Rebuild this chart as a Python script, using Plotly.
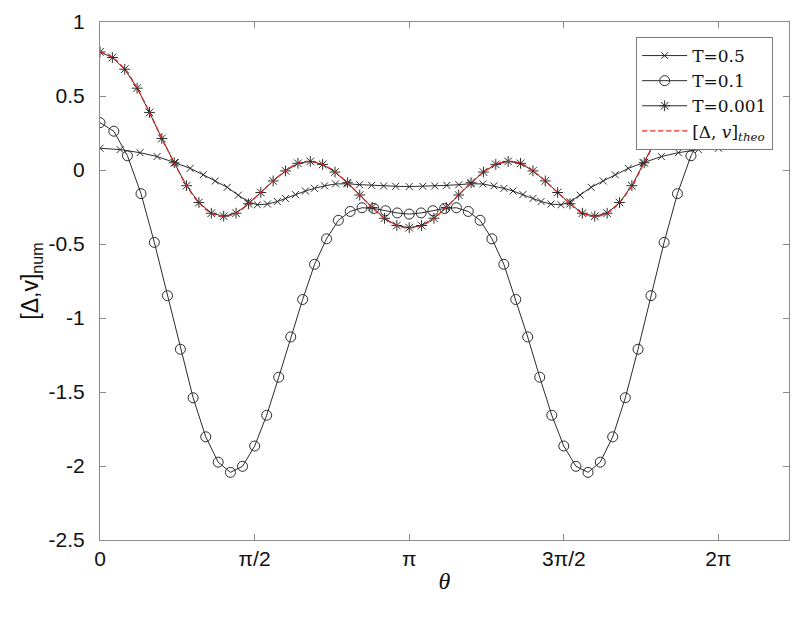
import plotly.graph_objects as go

# ---------------- data ----------------
# T=0.001 sampled on theta = k*2*pi/50, k = 0..50
theta_T0001 = [0.0, 0.1257, 0.2513, 0.3770, 0.5027, 0.6283, 0.7540, 0.8796, 1.0053, 1.1310,
               1.2566, 1.3823, 1.5080, 1.6336, 1.7593, 1.8850, 2.0106, 2.1363, 2.2619, 2.3876,
               2.5133, 2.6389, 2.7646, 2.8903, 3.0159, 3.1416, 3.2673, 3.3929, 3.5186, 3.6442,
               3.7699, 3.8956, 4.0212, 4.1469, 4.2726, 4.3982, 4.5239, 4.6496, 4.7752, 4.9009,
               5.0265, 5.1522, 5.2779, 5.4035, 5.5292, 5.6549, 5.7805, 5.9062, 6.0319, 6.1575,
               6.2832]
T0001_vals = [0.798, 0.760, 0.681, 0.553, 0.389, 0.213, 0.049, -0.106, -0.220, -0.292,
              -0.312, -0.292, -0.228, -0.152, -0.074, -0.006, 0.045, 0.058, 0.038, -0.014,
              -0.086, -0.169, -0.253, -0.326, -0.375, -0.390, -0.375, -0.326, -0.253, -0.169,
              -0.086, -0.014, 0.038, 0.058, 0.045, -0.006, -0.074, -0.152, -0.228, -0.292,
              -0.312, -0.292, -0.220, -0.106, 0.049, 0.213, 0.389, 0.553, 0.681, 0.760,
              0.798]

# T=0.1 sampled on a slightly non-uniform theta set
theta_T01 = [0.0, 0.1405, 0.2790, 0.4165, 0.5520, 0.6854, 0.8167, 0.9461, 1.0744, 1.2006,
             1.3249, 1.4481, 1.5713, 1.6935, 1.8157, 1.9379, 2.0591, 2.1803, 2.3015, 2.4217,
             2.5418, 2.6620, 2.7821, 2.9013, 3.0204, 3.1416, 3.2628, 3.3819, 3.5011, 3.6212,
             3.7414, 3.8615, 3.9817, 4.1029, 4.2241, 4.3453, 4.4675, 4.5897, 4.7119, 4.8351,
             4.9583, 5.0826, 5.2088, 5.3371, 5.4665, 5.5978, 5.7312, 5.8667, 6.0042, 6.1427,
             6.2832]
T01_vals = [0.320, 0.262, 0.096, -0.160, -0.489, -0.849, -1.211, -1.539, -1.803, -1.974,
            -2.043, -2.002, -1.865, -1.657, -1.400, -1.128, -0.875, -0.637, -0.465, -0.340,
            -0.280, -0.255, -0.260, -0.275, -0.290, -0.298, -0.290, -0.275, -0.260, -0.255,
            -0.280, -0.340, -0.465, -0.637, -0.875, -1.128, -1.400, -1.657, -1.865, -2.002,
            -2.043, -1.974, -1.803, -1.539, -1.211, -0.849, -0.489, -0.160, 0.096, 0.262,
            0.320]

# T=0.5 sampled on a non-uniform theta set
theta_T05 = [0.0, 0.204, 0.407, 0.580, 0.764, 0.916, 1.049, 1.171, 1.293, 1.405,
             1.507, 1.599, 1.701, 1.802, 1.884, 1.986, 2.087, 2.179, 2.281, 2.393,
             2.515, 2.637, 2.760, 2.882, 3.004, 3.1416, 3.279, 3.401, 3.523, 3.646,
             3.768, 3.890, 4.002, 4.104, 4.196, 4.297, 4.399, 4.481, 4.582, 4.684,
             4.776, 4.878, 4.990, 5.112, 5.234, 5.367, 5.519, 5.703, 5.876, 6.079,
             6.2832]
T05_vals = [0.147, 0.138, 0.117, 0.091, 0.049, 0.011, -0.032, -0.074, -0.117, -0.170,
            -0.215, -0.235, -0.230, -0.213, -0.192, -0.166, -0.142, -0.124, -0.107, -0.094,
            -0.093, -0.099, -0.104, -0.108, -0.110, -0.112, -0.110, -0.108, -0.104, -0.099,
            -0.093, -0.094, -0.107, -0.124, -0.142, -0.166, -0.192, -0.213, -0.230, -0.235,
            -0.215, -0.170, -0.117, -0.074, -0.032, 0.011, 0.049, 0.091, 0.117, 0.138,
            0.147]

x_tick_vals = [0.0, 1.5708, 3.1416, 4.7124, 6.2832]
x_tick_text = ["0", "π/2", "π", "3π/2", "2π"]
y_tick_vals = [1, 0.5, 0, -0.5, -1, -1.5, -2, -2.5]
y_tick_text = ["1", "0.5", "0", "-0.5", "-1", "-1.5", "-2", "-2.5"]

# ---------------- figure ----------------
LINE = "#2b2b2b"
SANS = "Liberation Sans Narrow, Liberation Sans, Arial"
SERIF = "DejaVu Serif, Liberation Serif"
fig = go.Figure()

fig.add_trace(go.Scatter(
    x=theta_T05, y=T05_vals, mode="lines+markers", name="T=0.5",
    line=dict(color=LINE, width=1),
    marker=dict(symbol="x-thin-open", size=7, color=LINE, line=dict(color=LINE, width=1)),
))
fig.add_trace(go.Scatter(
    x=theta_T01, y=T01_vals, mode="lines+markers", name="T=0.1",
    line=dict(color=LINE, width=1),
    marker=dict(symbol="circle-open", size=10, color=LINE, line=dict(color="#555555", width=1)),
))
fig.add_trace(go.Scatter(
    x=theta_T0001, y=T0001_vals, mode="lines+markers", name="T=0.001",
    line=dict(color=LINE, width=1),
    marker=dict(symbol="asterisk-open", size=9, color=LINE, line=dict(color="#444444", width=1)),
))
fig.add_trace(go.Scatter(
    x=theta_T0001, y=T0001_vals, mode="lines", name="[Δ, <i>v</i>]<sub><i>theo</i></sub>",
    line=dict(color="#e8231c", width=1.3, dash="5px,3px", shape="spline"),
))

axis_common = dict(
    showline=True, linecolor="#8a8a8a", linewidth=1, mirror="ticks",
    ticks="inside", ticklen=6, tickcolor="#8a8a8a", tickwidth=1,
    showgrid=False, zeroline=False, automargin=False,
    tickfont=dict(family=SANS, size=21, color="#111111"),
)

fig.update_xaxes(
    range=[0, 7], tickmode="array", tickvals=x_tick_vals, ticktext=x_tick_text,
    ticklabelstandoff=0,
    title=dict(text="<i>θ</i>", font=dict(family="Liberation Serif, DejaVu Serif", size=24, color="#111111"),
               standoff=2),
    **axis_common,
)
fig.update_yaxes(
    range=[-2.5, 1], tickmode="array", tickvals=y_tick_vals, ticktext=y_tick_text,
    ticklabelstandoff=10,
    title=dict(text="[Δ,v]<sub>num</sub>", font=dict(family=SANS, size=23, color="#111111"), standoff=3),
    **axis_common,
)

# the page adds an 8 px body margin, so the margins are shifted by 8 px
fig.update_layout(
    width=800, height=631, autosize=False,
    margin=dict(l=92, r=19, t=14, b=99),
    plot_bgcolor="white", paper_bgcolor="white",
    showlegend=True,
    legend=dict(
        x=0.977, y=0.971, xanchor="right", yanchor="top",
        bgcolor="white", bordercolor="#7a7a7a", borderwidth=1,
        font=dict(family=SERIF, size=17, color="#111111"),
        itemwidth=45, tracegroupgap=0,
    ),
)

fig.write_html("out.html")
